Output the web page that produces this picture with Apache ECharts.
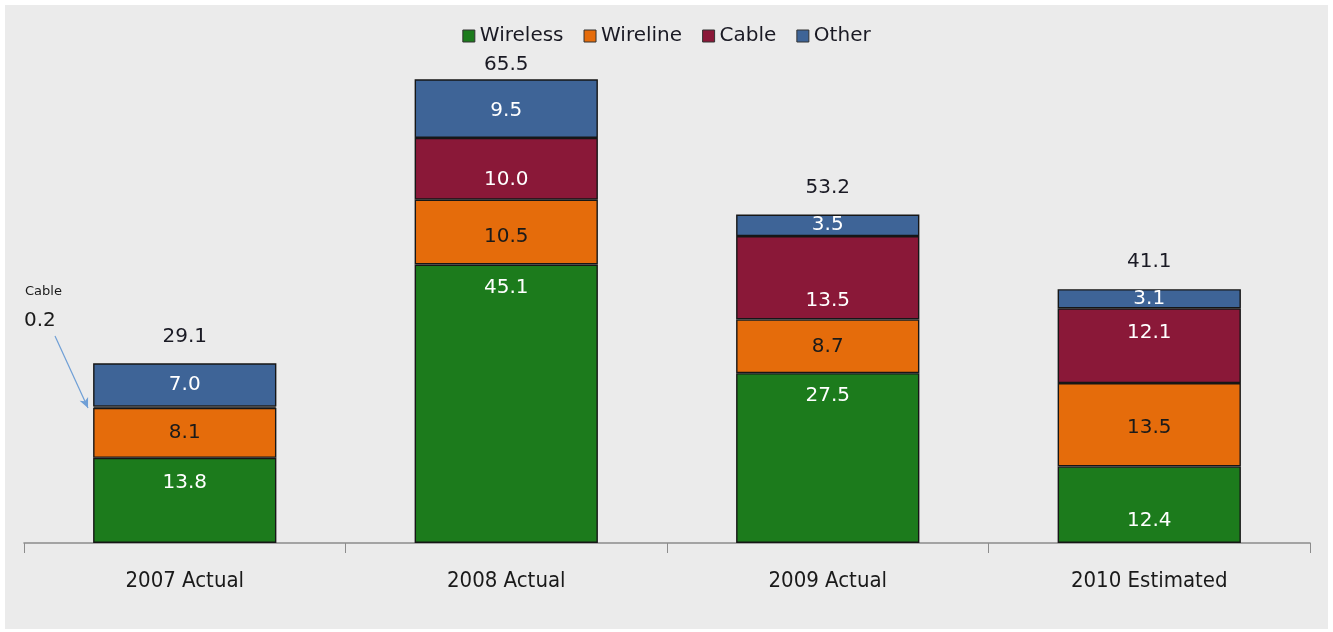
<!DOCTYPE html>
<html>
<head>
<meta charset="utf-8">
<script src="https://cdn.jsdelivr.net/npm/echarts@6/dist/echarts.min.js"></script>
<style>
  html, body { margin: 0; padding: 0; background: #fff; }
  #chart { width: 1333px; height: 632px; }
</style>
</head>
<body>
<div id="chart"></div>
<script>
const CATEGORIES = ['2007 Actual', '2008 Actual', '2009 Actual', '2010 Estimated']
const WIRELESS = [13.8, 45.1, 27.5, 12.4]
const WIRELINE = [8.1, 10.5, 8.7, 13.5]
const CABLE = [0.2, 10.0, 13.5, 12.1]
const OTHER = [7.0, 9.5, 3.5, 3.1]
// totals as printed on the source chart (2008 label differs from its segments)
const TOTALS = [29.1, 65.5, 53.2, 41.1]

const GREEN = '#1c7b1c'
const ORANGE = '#e56c0b'
const CABLE_RED = '#8a1838'
const BLUE = '#3e6497'
const FONT = 'DejaVu Sans'

// hand placed labels in the original, nudged a bit (px)
const NUDGE = {
  wireless: [-18, -116, -62, 16],
  wireline: [0, 5, 0, 3],
  cable: [0, 11, 23, -13],
  other: [0, 2, 0, 0],
}

const chart = echarts.init(document.getElementById('chart'))

function seg(name, values, color, textColor, key, hideFirst) {
  return {
    name, type: 'bar', stack: 'total', barWidth: '57%',
    itemStyle: { color, borderColor: '#161616', borderWidth: 1.4 },
    label: {
      show: true, position: 'inside', color: textColor,
      fontFamily: FONT, fontSize: 20,
      formatter: (p) => p.value.toFixed(1),
    },
    data: values.map((v, i) => ({
      value: v,
      label: (hideFirst && i === 0) ? { show: false } : { offset: [0, NUDGE[key][i]] },
    })),
  }
}

const series = [
  seg('Wireless', WIRELESS, GREEN, '#fff', 'wireless'),
  seg('Wireline', WIRELINE, ORANGE, '#1a1a1a', 'wireline'),
  seg('Cable', CABLE, CABLE_RED, '#fff', 'cable', true),
  seg('Other', OTHER, BLUE, '#fff', 'other'),
  {
    name: 'Total', type: 'bar', stack: 'total', barWidth: '57%',
    itemStyle: { color: 'transparent', borderWidth: 0 },
    label: {
      show: true, position: 'top', color: '#1a1a24',
      fontFamily: FONT, fontSize: 20,
      formatter: (p) => TOTALS[p.dataIndex].toFixed(1),
    },
    data: TOTALS.map((t, i) => ({ value: 0, label: { distance: i === 1 ? 4 : 17 } })),
  },
]

// arrow pointing at the tiny 2007 cable slice
series[2].markLine = {
  silent: true, animation: false,
  symbol: ['none', 'arrow'], symbolSize: [7, 10],
  lineStyle: { color: '#6f9fd6', width: 1.2, type: 'solid' },
  label: { show: false },
  data: [[{ x: 55, y: 336 }, { x: 88, y: 408 }]],
}

chart.setOption({
  backgroundColor: '#fff',
  animation: false,
  graphic: [
    { type: 'rect', z: -10, shape: { x: 5, y: 5, width: 1323, height: 624 },
      style: { fill: '#ebebeb' } },
    { type: 'text', left: 25, top: 285,
      style: { text: 'Cable', font: '13px "DejaVu Sans"', fill: '#1a1a1a' } },
    { type: 'text', left: 24, top: 311,
      style: { text: CABLE[0].toFixed(1), font: '20px "DejaVu Sans"', fill: '#1a1a1a' } },
  ],
  legend: {
    data: ['Wireless', 'Wireline', 'Cable', 'Other'],
    top: 21, left: 'center',
    icon: 'rect', itemWidth: 12, itemHeight: 12, itemGap: 20,
    itemStyle: { borderColor: '#333', borderWidth: 1 },
    textStyle: { fontFamily: FONT, fontSize: 20, color: '#1a1a24' },
  },
  grid: { left: 24, right: 23, top: 49, bottom: 89, containLabel: false },
  xAxis: {
    type: 'category', data: CATEGORIES,
    axisLine: { lineStyle: { color: '#8c8c8c', width: 1.6 } },
    axisTick: { show: true, length: 10, lineStyle: { color: '#8c8c8c' } },
    axisLabel: {
      margin: 27, color: '#1a1a1a',
      fontFamily: 'DejaVu Sans Condensed', fontSize: 22,
    },
  },
  yAxis: {
    type: 'value', min: 0, max: 80, show: false,
    splitLine: { show: false },
  },
  series,
})
</script>
</body>
</html>
